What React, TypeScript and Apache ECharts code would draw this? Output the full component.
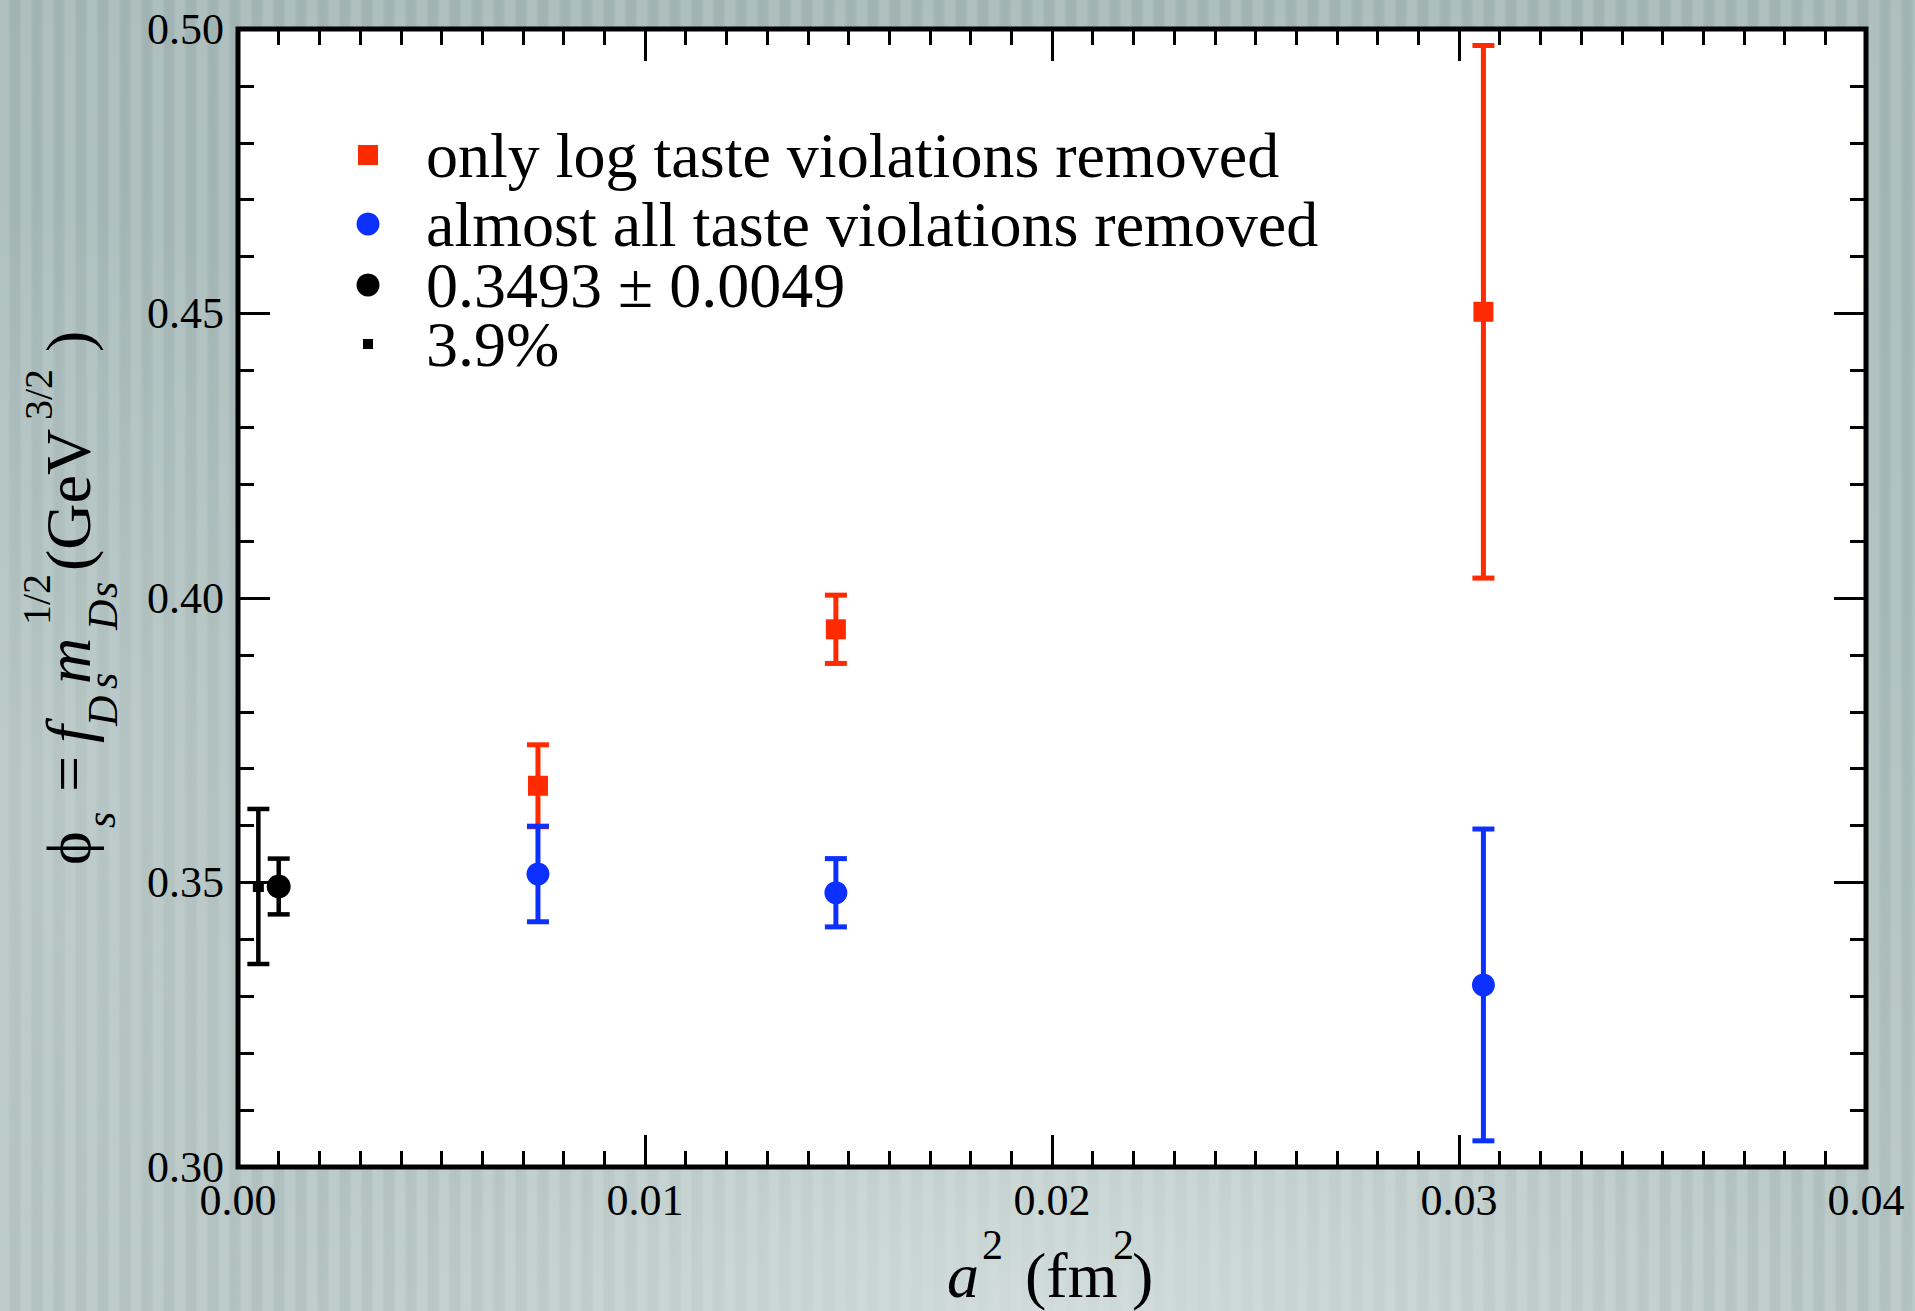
import React, { useEffect, useRef } from "react";
import * as echarts from "echarts";

const SERIF = '"Liberation Serif", "Times New Roman", "DejaVu Serif", serif';

// a^2 (fm^2) of the three ensembles
const latticeA2 = [0.00737, 0.01469, 0.0306];
// phi_s with only log taste violations removed
const logRemovedVals = [0.367, 0.3945, 0.4503];
const logRemovedErrs = [0.0072, 0.006, 0.0468];
// phi_s with almost all taste violations removed
const allRemovedVals = [0.3515, 0.3482, 0.332];
const allRemovedErrs = [0.0084, 0.006, 0.0274];
// continuum result and its total error
const continuumX = [0.001];
const continuumVals = [0.3493];
const continuumErrs = [0.0049];
const totalErrX = [0.0005];
const totalErrPct = [3.9];

const xTickValues = [0, 0.01, 0.02, 0.03, 0.04];
const yTickValues = [0.3, 0.35, 0.4, 0.45, 0.5];

const NAME_LOG = "only log taste violations removed";
const NAME_ALL = "almost all taste violations removed";
const NAME_CONT = `${continuumVals[0].toFixed(4)} ± ${continuumErrs[0].toFixed(4)}`;
const NAME_TOT = `${totalErrPct[0]}%`;

const RED = "#ff2a00";
const BLUE = "#0b30ff";
const BLACK = "#000000";

const CENTRAL = 0.3375; // central baseline offset (em) for Liberation Serif

function errorBars(data: number[][], color: string, width: number) {
  return {
    type: "custom",
    silent: true,
    z: 2,
    encode: { x: 0, y: [1, 2] },
    data,
    renderItem: (_params: any, api: any) => {
      const x = api.value(0);
      const lo = api.coord([x, api.value(1)]);
      const hi = api.coord([x, api.value(2)]);
      const half = 11;
      const style = { stroke: color, lineWidth: width, fill: "none" };
      return {
        type: "group",
        children: [
          { type: "line", shape: { x1: lo[0], y1: lo[1], x2: hi[0], y2: hi[1] }, style },
          { type: "line", shape: { x1: lo[0] - half, y1: lo[1], x2: lo[0] + half, y2: lo[1] }, style },
          { type: "line", shape: { x1: hi[0] - half, y1: hi[1], x2: hi[0] + half, y2: hi[1] }, style },
        ],
      };
    },
  };
}

// text placed by its left edge and alphabetic baseline
function txt(text: string, x: number, baseline: number, size: number, italic = false) {
  return {
    type: "text",
    x,
    y: baseline - CENTRAL * size,
    silent: true,
    style: {
      text,
      font: `${italic ? "italic " : ""}${size}px ${SERIF}`,
      fill: "#000",
      align: "left",
      verticalAlign: "middle",
      textAlign: "left",
      textVerticalAlign: "middle",
    },
  };
}

// same, for a rotated frame: u along the reading direction, v = height above the main baseline
function rtxt(text: string, u: number, v: number, size: number, italic = false) {
  return txt(text, u, -v, size, italic);
}

function buildOption() {
  const axisCommon = {
    type: "value",
    splitLine: { show: false },
    minorSplitLine: { show: false },
    axisLine: { show: false, onZero: false },
    axisTick: { show: true, inside: true, length: 32, lineStyle: { color: "#000", width: 3 } },
  };
  const labelStyle = { fontFamily: SERIF, fontSize: 44, color: "#000" };

  const xBase = {
    ...axisCommon,
    min: xTickValues[0],
    max: xTickValues[xTickValues.length - 1],
    interval: xTickValues[1] - xTickValues[0],
    minorTick: { show: true, splitNumber: 10, length: 16, lineStyle: { color: "#000", width: 3 } },
  };
  const yBase = {
    ...axisCommon,
    min: yTickValues[0],
    max: yTickValues[yTickValues.length - 1],
    interval: 0.05,
    minorTick: { show: true, splitNumber: 5, length: 16, lineStyle: { color: "#000", width: 3 } },
  };

  const legendRows = [
    { name: NAME_LOG, icon: "rect", size: 20, iconY: 155, baseline: 166 },
    { name: NAME_ALL, icon: "circle", size: 23, iconY: 224, baseline: 240 },
    { name: NAME_CONT, icon: "circle", size: 23, iconY: 285, baseline: 300 },
    { name: NAME_TOT, icon: "rect", size: 10, iconY: 344, baseline: 361 },
  ];
  const legend = legendRows.map((r) => {
    const pb = Math.max(0, 2 * (CENTRAL * 64 - (r.baseline - r.iconY)));
    const pl = 53 - r.size / 2;
    return {
      data: [r.name],
      left: 368 - r.size / 2,
      top: r.iconY - 32 - pb / 2,
      padding: 0,
      itemWidth: r.size,
      itemHeight: r.size,
      icon: r.icon,
      selectedMode: false,
      textStyle: { fontFamily: SERIF, fontSize: 64, lineHeight: 64, color: "#000", padding: [0, 0, pb, pl] },
    };
  });

  // y-axis title: phi_s = f_{D_s} m_{D_s}^{1/2} (GeV^{3/2}), read bottom to top
  const yTitleParts = [
    rtxt("ϕ", -2, 0, 64),
    rtxt("s", 35, -25, 42, true),
    rtxt("=", 71, 0, 64),
    rtxt("f", 120, 0, 64, true),
    rtxt("D", 137, -27, 42, true),
    rtxt("s", 174, -27, 42, true),
    rtxt("m", 179, 0, 64, true),
    rtxt("1/2", 238, 40, 40),
    rtxt("D", 233, -27, 42, true),
    rtxt("s", 265, -27, 42, true),
    rtxt("(GeV", 292, 0, 64),
    rtxt("3/2", 443, 38, 40),
    rtxt(")", 511, 0, 64),
  ];

  // x-axis title: a^2 (fm^2)
  const xTitleParts = [
    txt("a", 947, 1297, 64, true),
    txt("2", 982, 1259, 42),
    txt("(fm", 1025, 1297, 64),
    txt("2", 1113, 1259, 42),
    txt(")", 1132, 1297, 64),
  ];

  const totalErrAbs = totalErrX.map((_, i) => (continuumVals[i] * totalErrPct[i]) / 100);

  return {
    animation: false,
    backgroundColor: "transparent",
    grid: {
      left: 238,
      top: 29,
      width: 1628,
      height: 1138,
      show: true,
      backgroundColor: "#ffffff",
      borderColor: "#000",
      borderWidth: 5,
    },
    xAxis: [
      {
        ...xBase,
        position: "bottom",
        axisLabel: { ...labelStyle, margin: 11, formatter: (v: number) => v.toFixed(2) },
      },
      { ...xBase, position: "top", axisLabel: { show: false } },
    ],
    yAxis: [
      {
        ...yBase,
        position: "left",
        axisLabel: { ...labelStyle, margin: 14, formatter: (v: number) => v.toFixed(2) },
      },
      { ...yBase, position: "right", axisLabel: { show: false } },
    ],
    legend,
    graphic: [
      { type: "group", x: 90, y: 863, rotation: Math.PI / 2, silent: true, children: yTitleParts },
      ...xTitleParts,
    ],
    series: [
      errorBars(latticeA2.map((x, i) => [x, logRemovedVals[i] - logRemovedErrs[i], logRemovedVals[i] + logRemovedErrs[i]]), RED, 5),
      errorBars(latticeA2.map((x, i) => [x, allRemovedVals[i] - allRemovedErrs[i], allRemovedVals[i] + allRemovedErrs[i]]), BLUE, 5),
      errorBars(continuumX.map((x, i) => [x, continuumVals[i] - continuumErrs[i], continuumVals[i] + continuumErrs[i]]), BLACK, 4.5),
      errorBars(totalErrX.map((x, i) => [x, continuumVals[i] - totalErrAbs[i], continuumVals[i] + totalErrAbs[i]]), BLACK, 4.5),
      {
        name: NAME_LOG,
        type: "scatter",
        symbol: "rect",
        symbolSize: 20,
        itemStyle: { color: RED, opacity: 1 },
        z: 3,
        data: latticeA2.map((x, i) => [x, logRemovedVals[i]]),
      },
      {
        name: NAME_ALL,
        type: "scatter",
        symbol: "circle",
        symbolSize: 23,
        itemStyle: { color: BLUE, opacity: 1 },
        z: 3,
        data: latticeA2.map((x, i) => [x, allRemovedVals[i]]),
      },
      {
        name: NAME_CONT,
        type: "scatter",
        symbol: "circle",
        symbolSize: 24,
        itemStyle: { color: BLACK, opacity: 1 },
        z: 3,
        data: continuumX.map((x, i) => [x, continuumVals[i]]),
      },
      {
        name: NAME_TOT,
        type: "scatter",
        symbol: "rect",
        symbolSize: 11,
        itemStyle: { color: BLACK, opacity: 1 },
        z: 3,
        data: totalErrX.map((x, i) => [x, continuumVals[i]]),
      },
    ],
  };
}

const BACKGROUND = [
  "radial-gradient(ellipse 42% 30% at 55% 100%, rgba(216,226,224,0.8), rgba(216,226,224,0) 100%)",
  "radial-gradient(ellipse 20% 45% at 3% 60%, rgba(200,212,210,0.45), rgba(200,212,210,0) 100%)",
  "repeating-linear-gradient(90deg, rgba(255,255,255,0.1) 0px, rgba(255,255,255,0.1) 8px, rgba(60,80,80,0.04) 11px, rgba(60,80,80,0.04) 19px, rgba(255,255,255,0.1) 22px)",
  "linear-gradient(180deg, #a5b8b7 0%, #a9bcbb 45%, #b6c6c4 100%)",
].join(", ");

export default function App() {
  const ref = useRef<HTMLDivElement>(null);
  useEffect(() => {
    if (!ref.current) return;
    const chart = echarts.init(ref.current, undefined, { renderer: "svg" });
    chart.setOption(buildOption() as any);
    return () => chart.dispose();
  }, []);
  return (
    <div
      ref={ref}
      style={{ position: "fixed", left: 0, top: 0, width: 1915, height: 1311, background: BACKGROUND }}
    />
  );
}
